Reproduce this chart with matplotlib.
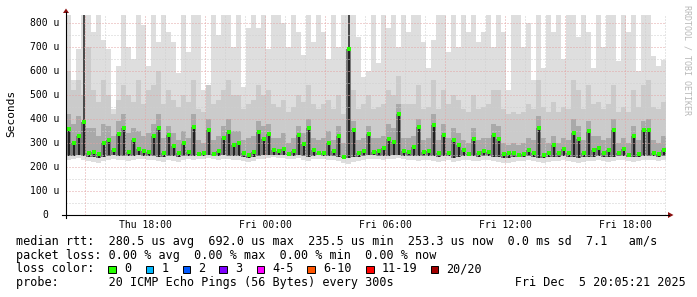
import numpy as np
import matplotlib
matplotlib.use('Agg')
import matplotlib.pyplot as plt
from matplotlib.lines import Line2D
from matplotlib.patches import Polygon, Rectangle

plt.rcParams['font.family'] = ['DejaVu Sans Mono']

# ---------------- data (microseconds), one sample per 15 min ----------------
start_hour = 14.05          # Thu 14:03
step_hours = 0.25

median_rtt = [358, 300, 330, 385, 258, 262, 252, 300, 310, 270, 335, 364, 262, 310, 275, 265, 262,
              330, 360, 258, 333, 285, 258, 298, 262, 367, 255, 258, 355, 255, 268, 322, 345, 292,
              300, 258, 250, 262, 345, 318, 335, 270, 265, 275, 255, 268, 333, 295, 360, 270, 258,
              260, 300, 265, 330, 242, 692, 355, 260, 265, 335, 262, 268, 278, 318, 305, 420, 265, 262,
              282, 368, 262, 268, 374, 258, 333, 258, 310, 290, 270, 255, 315, 258, 265, 262, 333,
              318, 255, 258, 256, 250, 252, 270, 258, 360, 250, 258, 290, 258, 273, 258, 343, 318,
              256, 350, 270, 280, 258, 270, 355, 258, 275, 250, 327, 255, 355, 355, 258, 255, 270]

ping_max = [833, 560, 690, 833, 833, 760, 833, 730, 690, 440, 620, 833, 700, 650, 833, 790, 620,
            833, 720, 833, 760, 720, 590, 833, 680, 833, 833, 520, 540, 833, 750, 833, 833, 700,
            833, 533, 780, 833, 780, 833, 690, 833, 833, 800, 700, 833, 760, 667, 833, 720, 833,
            760, 650, 833, 700, 833, 833, 833, 740, 575, 600, 833, 633, 833, 780, 833, 700, 833, 760,
            833, 833, 720, 610, 730, 833, 833, 680, 833, 700, 833, 760, 833, 720, 760, 833, 700,
            833, 760, 520, 833, 833, 700, 800, 563, 833, 610, 833, 760, 833, 650, 833, 833, 740,
            833, 760, 610, 833, 700, 833, 833, 640, 833, 760, 833, 600, 833, 833, 660, 620, 646]

ping_p90 = [600, 520, 560, 500, 700, 520, 470, 560, 500, 420, 480, 540, 500, 470, 560, 460, 520,
            540, 600, 460, 520, 480, 450, 500, 470, 560, 440, 430, 540, 460, 480, 520, 560, 500,
            500, 440, 460, 480, 540, 500, 520, 460, 450, 480, 430, 450, 500, 470, 540, 460, 440,
            460, 480, 440, 500, 420, 540, 520, 440, 460, 500, 440, 450, 460, 520, 500, 580, 460, 460,
            460, 540, 440, 450, 560, 440, 520, 460, 500, 480, 440, 430, 500, 440, 450, 460, 520,
            520, 440, 420, 430, 420, 430, 460, 440, 560, 450, 430, 470, 430, 450, 440, 560, 520,
            440, 540, 460, 470, 440, 460, 540, 430, 450, 430, 520, 450, 540, 560, 450, 440, 470]

ping_p75 = [420, 380, 410, 380, 360, 360, 330, 380, 370, 330, 390, 420, 340, 360, 350, 330, 340,
            380, 420, 320, 370, 340, 310, 350, 320, 420, 310, 300, 400, 310, 330, 370, 400, 350,
            350, 310, 320, 330, 390, 370, 380, 320, 320, 340, 300, 320, 370, 340, 400, 320, 310,
            320, 350, 310, 370, 300, 400, 390, 310, 320, 370, 320, 320, 330, 380, 360, 460, 320, 320,
            330, 400, 310, 320, 420, 310, 380, 320, 360, 340, 310, 300, 360, 310, 320, 320, 380,
            370, 300, 290, 300, 290, 300, 320, 310, 410, 320, 300, 330, 300, 320, 310, 400, 370,
            310, 390, 330, 330, 310, 320, 400, 300, 320, 300, 370, 310, 390, 400, 310, 300, 330]

ping_low = [244, 246, 248, 244, 242, 240, 238, 242, 246, 248, 246, 246, 244, 246, 248, 246, 246,
            244, 242, 240, 246, 244, 240, 246, 246, 246, 248, 246, 248, 246, 244, 248, 246, 246,
            244, 242, 238, 242, 246, 248, 248, 250, 248, 250, 248, 246, 248, 246, 242, 246, 248,
            246, 246, 244, 242, 236, 236, 240, 242, 246, 248, 248, 246, 246, 246, 248, 248, 246, 246,
            246, 244, 244, 246, 244, 240, 244, 246, 238, 240, 244, 246, 244, 240, 246, 244, 242,
            240, 236, 238, 240, 240, 242, 244, 240, 238, 236, 240, 242, 240, 244, 242, 240, 238,
            240, 242, 240, 244, 242, 240, 242, 246, 244, 240, 240, 242, 244, 246, 244, 242, 246]

ping_min = [228, 232, 236, 230, 226, 222, 218, 225, 230, 232, 228, 230, 226, 230, 234, 232, 230,
            228, 226, 222, 230, 226, 220, 230, 232, 230, 234, 232, 236, 232, 228, 234, 232, 230,
            228, 226, 220, 226, 232, 234, 236, 240, 236, 238, 234, 232, 236, 230, 226, 232, 234,
            232, 230, 228, 224, 218, 214, 222, 226, 230, 232, 234, 232, 230, 232, 234, 236, 232, 230,
            230, 226, 228, 230, 226, 222, 226, 230, 220, 224, 228, 230, 226, 224, 230, 228, 224,
            220, 216, 218, 222, 224, 226, 228, 224, 220, 218, 222, 226, 224, 228, 226, 222, 218,
            222, 226, 224, 228, 226, 222, 226, 230, 228, 224, 222, 226, 228, 230, 228, 226, 230]

# two narrow dark streaks that reach the top of the graph
streak_index = [3, 56]
streak_top = [833, 833]

y_ticks = [0, 100, 200, 300, 400, 500, 600, 700, 800]
x_tick_hours = [18, 24, 30, 36, 42]
x_tick_labels = ['Thu 18:00', 'Fri 00:00', 'Fri 06:00', 'Fri 12:00', 'Fri 18:00']

legend_rtt = "median rtt:  280.5 us avg  692.0 us max  235.5 us min  253.3 us now  0.0 ms sd  7.1   am/s"
legend_loss = "packet loss: 0.00 % avg  0.00 % max  0.00 % min  0.00 % now"
legend_probe = "probe:       20 ICMP Echo Pings (56 Bytes) every 300s                 Fri Dec  5 20:05:21 2025"
loss_labels = ['0', '1', '2', '3', '4-5', '6-10', '11-19', '20/20']
loss_colors = ['#26ff00', '#00b8ff', '#0059ff', '#7e00ff', '#ff00ff', '#ff5500', '#ff0000', '#a10000']

# ---------------- figure ----------------
W, H = 697, 297
fig = plt.figure(figsize=(W / 100, H / 100), dpi=100)
fig.patch.set_facecolor('white')

def fx(x):
    return x / W

def fy(y):
    return 1 - y / H

Y_TOP = 832.0
ax = fig.add_axes([fx(66), fy(215), 600 / W, 200 / H])
ax.set_xlim(start_hour, start_hour + 30)
ax.set_ylim(0, Y_TOP)
ax.axis('off')

n = len(median_rtt)
edges = start_hour + step_hours * np.arange(n + 1)
centers = start_hour + step_hours * (np.arange(n) + 0.5)

def ext(a):
    a = np.asarray(a, dtype=float)
    return np.append(a, a[-1])

ax.fill_between(edges, ext(ping_min), ext(ping_max), step='post', color='#dedede', lw=0, zorder=1)
ax.fill_between(edges, ext(ping_low), ext(ping_p90), step='post', color='#cbcbcb', lw=0, zorder=2)
ax.fill_between(edges, ext(ping_low), ext(ping_p75), step='post', color='#a9a9a9', lw=0, zorder=3)
ax.fill_between(edges, ext(ping_low), ext(median_rtt), step='post', color='#7a7a7a', lw=0, zorder=4)
ax.vlines(centers, ping_low, median_rtt, color='#1a1a1a', lw=1.3, zorder=4.5)
ax.vlines(centers[streak_index], np.asarray(median_rtt)[streak_index], streak_top,
          color='#3c3c3c', lw=1.3, zorder=4.4)

# grid
for v in range(50, int(Y_TOP), 50):
    c = '#e3a4a4' if v % 100 == 0 else '#cfcfcf'
    ax.axhline(v, color=c, lw=0.72, ls=(0, (1, 2)), zorder=5)
for h in range(15, 45):
    c = '#e3a4a4' if h % 3 == 0 else '#cfcfcf'
    ax.axvline(h, color=c, lw=0.72, ls=(0, (1, 2)), zorder=5)

ax.plot(centers, median_rtt, ls='none', marker='s', ms=2.3, mew=0, color='#26ff00', zorder=7)

# axes lines + arrows
fig.add_artist(Line2D([fx(66), fx(66)], [fy(218), fy(12)], color='black', lw=0.8))
fig.add_artist(Line2D([fx(62), fx(669)], [fy(215), fy(215)], color='black', lw=0.8))
fig.add_artist(Polygon([(fx(63), fy(13)), (fx(69), fy(13)), (fx(66), fy(8.5))],
                       closed=True, color='#8b1010', lw=0))
fig.add_artist(Polygon([(fx(668), fy(212)), (fx(668), fy(218)), (fx(673.5), fy(215))],
                       closed=True, color='#8b1010', lw=0))

# tick labels
PX_PER_US = 192.3 / 800
for v in y_ticks:
    ypx = 215 - v * PX_PER_US
    if v == 0:
        fig.text(fx(45), fy(ypx), '0', ha='center', va='center', fontsize=7)
    else:
        fig.text(fx(59.5), fy(ypx), f'{v} u', ha='right', va='center', fontsize=7)
for h, lab in zip(x_tick_hours, x_tick_labels):
    xpx = 145 + (h - 18) * 20
    fig.text(fx(xpx), fy(224.5), lab, ha='center', va='center', fontsize=7)

fig.text(fx(11), fy(113.5), 'Seconds', rotation=90, ha='center', va='center', fontsize=8)
fig.text(fx(687.5), fy(60), 'RRDTOOL / TOBI OETIKER', rotation=270, ha='center', va='center',
         fontsize=6, color='#b8b8b8')

# legend
fig.text(fx(16), fy(241.5), legend_rtt, ha='left', va='center', fontsize=8.5)
fig.text(fx(16), fy(255.3), legend_loss, ha='left', va='center', fontsize=8.5)
fig.text(fx(16), fy(269), 'loss color:', ha='left', va='center', fontsize=8.5)
fig.text(fx(16), fy(282.8), legend_probe, ha='left', va='center', fontsize=8.5)

box_x = [108.3, 145.7, 182.7, 219.3, 256.7, 307.3, 366.0, 430.7]
for bx, lab, col in zip(box_x, loss_labels, loss_colors):
    fig.add_artist(Rectangle((fx(bx), fy(273)), 7.5 / W, 7.5 / H, facecolor=col,
                             edgecolor='black', lw=0.7))
    fig.text(fx(bx + 15.5), fy(269), lab, ha='left', va='center', fontsize=8.5)

fig.savefig('out.png', dpi=100, facecolor='white')
